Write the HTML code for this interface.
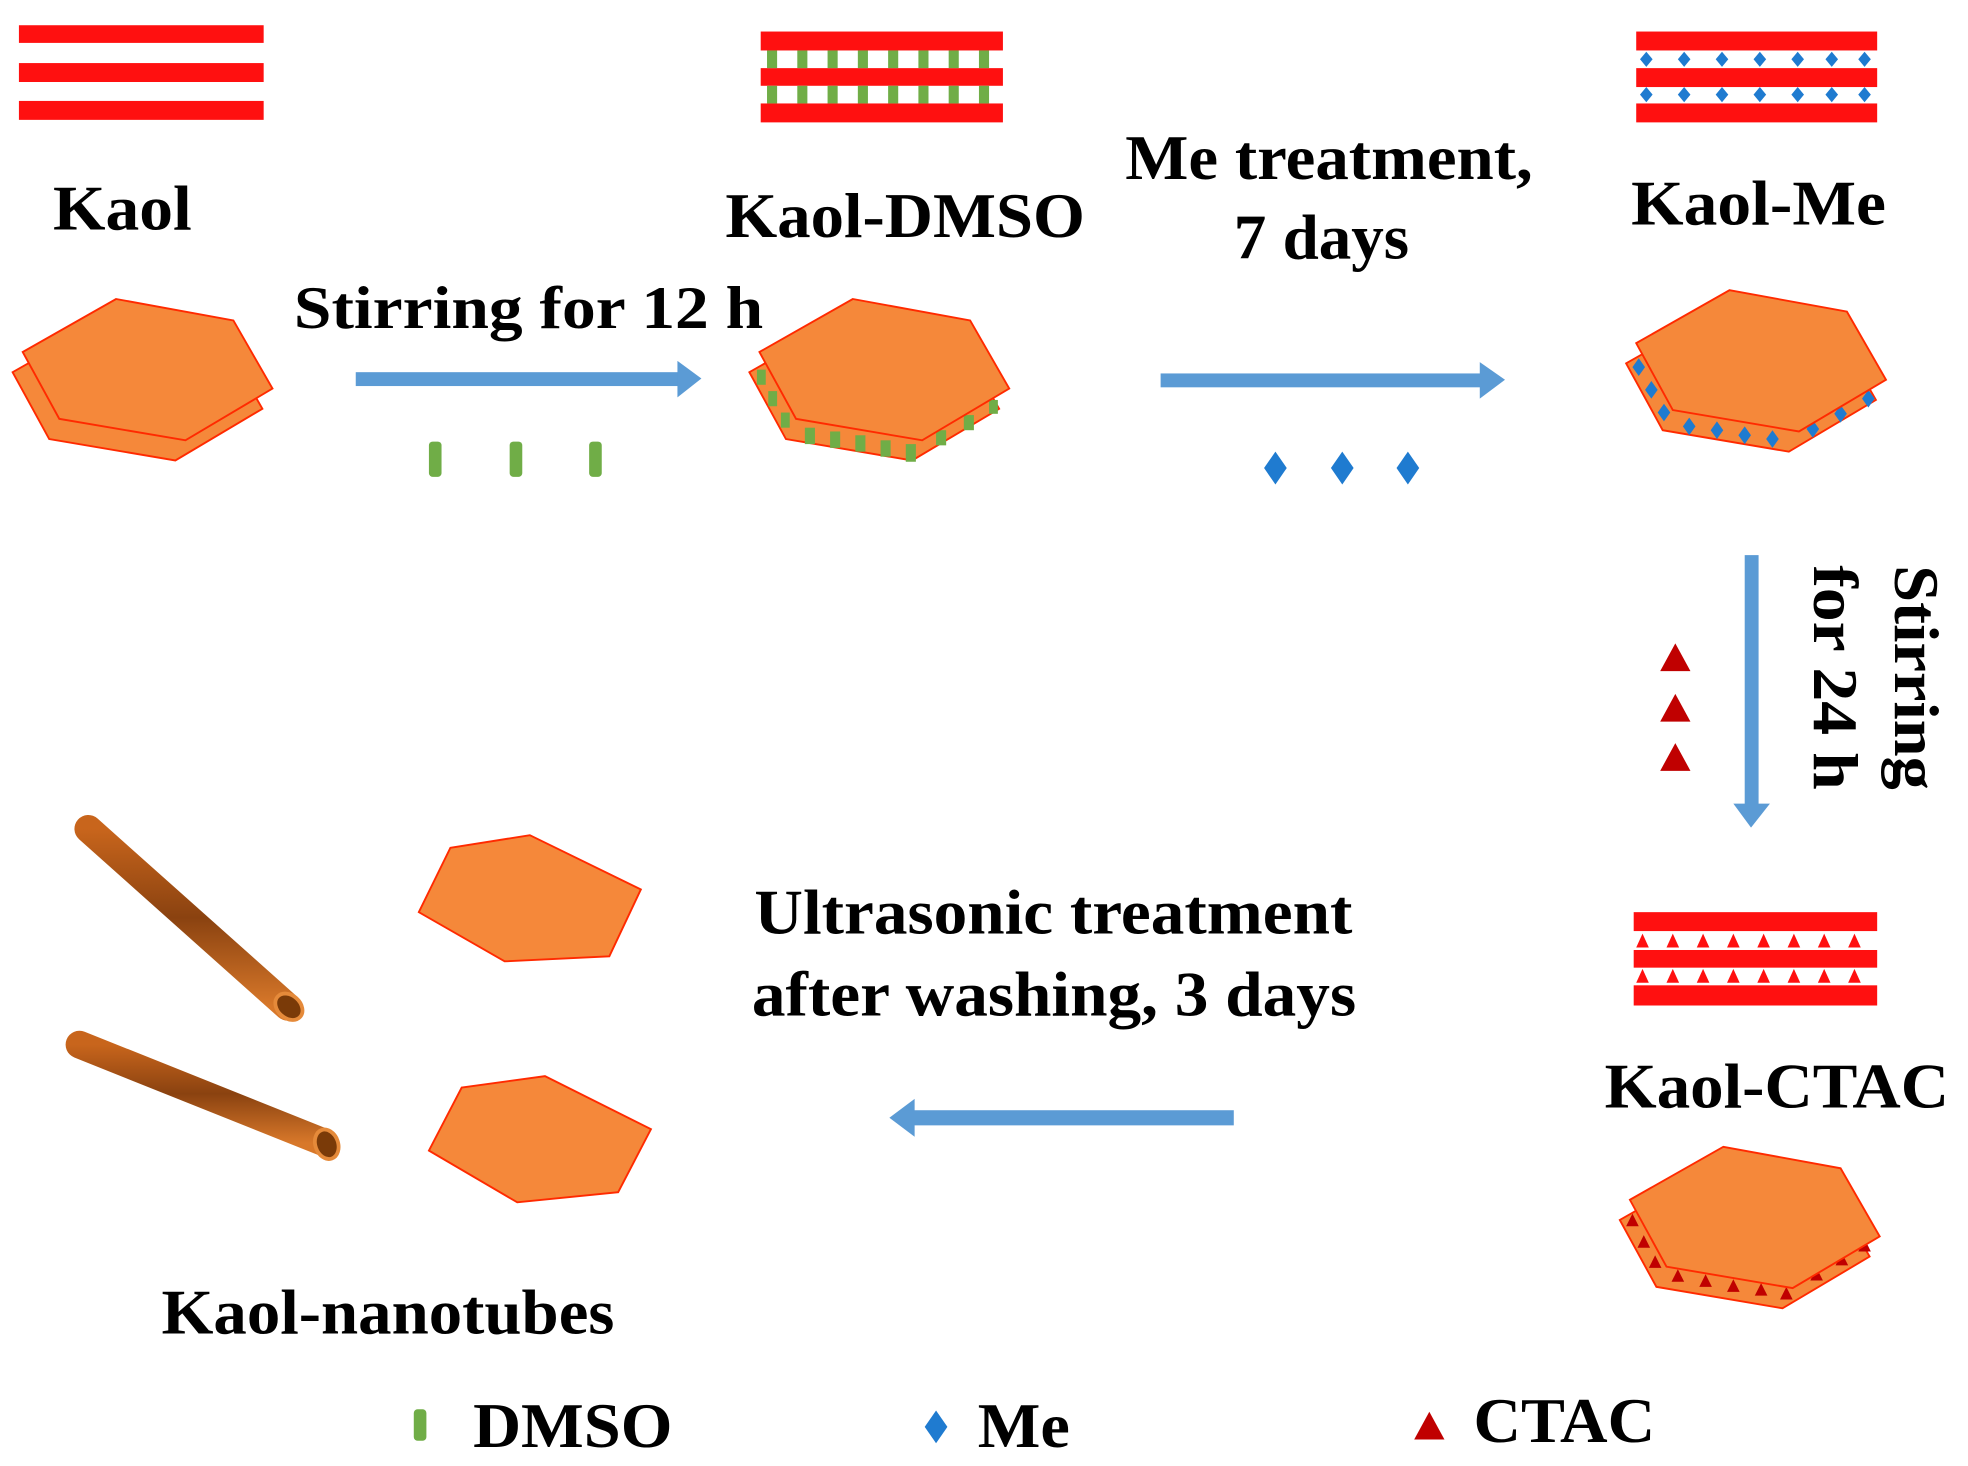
<!DOCTYPE html>
<html><head><meta charset="utf-8"><style>
html,body{margin:0;padding:0;background:#fff;}
svg{display:block;}
text{font-family:"Liberation Serif",serif;font-weight:bold;fill:#000;}
</style></head><body>
<svg width="1968" height="1466" viewBox="0 0 1560 1162" preserveAspectRatio="none" xmlns="http://www.w3.org/2000/svg">
<defs>
<linearGradient id="tube" x1="0" y1="0" x2="0" y2="1">
<stop offset="0" stop-color="#c8651c"/><stop offset="0.5" stop-color="#8a4210"/><stop offset="1" stop-color="#d8782a"/>
</linearGradient>
<polygon id="hx" points="74,0 167,17 198,71 129,112 29,95 0,42"/>
<g id="dbl">
<use href="#hx" x="-8" y="16" fill="#f5883a" stroke="#ff2a00" stroke-width="1.5"/>
</g>
</defs>

<!-- Kaol stripes -->
<g fill="#ff1010">
<rect x="15" y="20" width="194" height="14"/><rect x="15" y="50" width="194" height="15"/><rect x="15" y="80" width="194" height="15"/>
</g>
<text x="42" y="182" font-size="50" textLength="110" lengthAdjust="spacingAndGlyphs">Kaol</text>
<g transform="translate(18,237)">
<use href="#dbl"/>
<use href="#hx" fill="#f5883a" stroke="#ff2a00" stroke-width="1.5"/>
</g>

<!-- Arrow 1 -->
<rect x="282" y="295" width="258" height="11" fill="#5b9bd5"/>
<polygon points="537,286 556,300 537,315" fill="#5b9bd5"/>
<text x="233" y="260" font-size="48" textLength="372" lengthAdjust="spacingAndGlyphs">Stirring for 12 h</text>
<g fill="#70ad47">
<rect x="340" y="350" width="10" height="28" rx="3"/><rect x="404" y="350" width="10" height="28" rx="3"/><rect x="467" y="350" width="10" height="28" rx="3"/>
</g>

<!-- Kaol-DMSO stripes -->
<g fill="#ff1010">
<rect x="603" y="25" width="192" height="15"/><rect x="603" y="54" width="192" height="14"/><rect x="603" y="82" width="192" height="15"/>
</g>
<g fill="#70ad47">
<rect x="608" y="40" width="8" height="14"/><rect x="632" y="40" width="8" height="14"/><rect x="656" y="40" width="8" height="14"/><rect x="680" y="40" width="8" height="14"/><rect x="704" y="40" width="8" height="14"/><rect x="728" y="40" width="8" height="14"/><rect x="752" y="40" width="8" height="14"/><rect x="776" y="40" width="8" height="14"/>
<rect x="608" y="68" width="8" height="14"/><rect x="632" y="68" width="8" height="14"/><rect x="656" y="68" width="8" height="14"/><rect x="680" y="68" width="8" height="14"/><rect x="704" y="68" width="8" height="14"/><rect x="728" y="68" width="8" height="14"/><rect x="752" y="68" width="8" height="14"/><rect x="776" y="68" width="8" height="14"/>
</g>
<text x="575" y="188" font-size="50" textLength="285" lengthAdjust="spacingAndGlyphs">Kaol-DMSO</text>
<g transform="translate(602,237)">
<use href="#dbl"/>
<g fill="#70ad47">
<rect x="-2" y="56" width="7" height="12"/><rect x="7" y="73" width="7" height="12"/><rect x="17" y="90" width="7" height="12"/><rect x="36" y="102" width="8" height="13"/><rect x="56" y="105" width="8" height="13"/><rect x="76" y="108" width="8" height="13"/><rect x="96" y="112" width="8" height="13"/><rect x="116" y="115" width="8" height="14"/><rect x="140" y="104" width="8" height="12"/><rect x="162" y="92" width="8" height="12"/><rect x="182" y="80" width="7" height="11"/>
</g>
<use href="#hx" fill="#f5883a" stroke="#ff2a00" stroke-width="1.5"/>
</g>

<!-- Arrow 2 -->
<text x="892" y="142" font-size="50" textLength="323" lengthAdjust="spacingAndGlyphs">Me treatment,</text>
<text x="978" y="205" font-size="50" textLength="139" lengthAdjust="spacingAndGlyphs">7 days</text>
<rect x="920" y="296" width="255" height="11" fill="#5b9bd5"/>
<polygon points="1173,287 1193,301 1173,316" fill="#5b9bd5"/>
<g fill="#1f7bd0">
<polygon points="1011,358 1020,371 1011,384 1002,371"/><polygon points="1064,358 1073,371 1064,384 1055,371"/><polygon points="1116,358 1125,371 1116,384 1107,371"/>
</g>

<!-- Kaol-Me stripes -->
<g fill="#ff1010">
<rect x="1297" y="25" width="191" height="15"/><rect x="1297" y="54" width="191" height="15"/><rect x="1297" y="82" width="191" height="15"/>
</g>
<g fill="#1f7bd0">
<polygon points="1305,41 1310,47 1305,53 1300,47"/><polygon points="1335,41 1340,47 1335,53 1330,47"/><polygon points="1365,41 1370,47 1365,53 1360,47"/><polygon points="1395,41 1400,47 1395,53 1390,47"/><polygon points="1425,41 1430,47 1425,53 1420,47"/><polygon points="1452,41 1457,47 1452,53 1447,47"/><polygon points="1478,41 1483,47 1478,53 1473,47"/>
<polygon points="1305,69 1310,75 1305,81 1300,75"/><polygon points="1335,69 1340,75 1335,81 1330,75"/><polygon points="1365,69 1370,75 1365,81 1360,75"/><polygon points="1395,69 1400,75 1395,81 1390,75"/><polygon points="1425,69 1430,75 1425,81 1420,75"/><polygon points="1452,69 1457,75 1452,81 1447,75"/><polygon points="1478,69 1483,75 1478,81 1473,75"/>
</g>
<text x="1293" y="178" font-size="50" textLength="202" lengthAdjust="spacingAndGlyphs">Kaol-Me</text>
<g transform="translate(1297,230)">
<use href="#dbl"/>
<g fill="#1f7bd0">
<polygon points="2,54 7,61 2,68 -3,61"/><polygon points="12,72 17,79 12,86 7,79"/><polygon points="22,90 27,97 22,104 17,97"/><polygon points="42,101 47,108 42,115 37,108"/><polygon points="64,104 69,111 64,118 59,111"/><polygon points="86,108 91,115 86,122 81,115"/><polygon points="108,111 113,118 108,125 103,118"/><polygon points="140,103 145,110 140,117 135,110"/><polygon points="162,91 167,98 162,105 157,98"/><polygon points="184,79 189,86 184,93 179,86"/>
</g>
<use href="#hx" fill="#f5883a" stroke="#ff2a00" stroke-width="1.5"/>
</g>

<!-- Vertical arrow -->
<rect x="1383" y="440" width="11" height="200" fill="#5b9bd5"/>
<polygon points="1374,637 1403,637 1388,656" fill="#5b9bd5"/>
<g fill="#c00000">
<polygon points="1328,510 1340,532 1316,532"/><polygon points="1328,550 1340,572 1316,572"/><polygon points="1328,589 1340,611 1316,611"/>
</g>
<text transform="translate(1502,448) rotate(90)" font-size="50" textLength="178" lengthAdjust="spacingAndGlyphs">Stirring</text>
<text transform="translate(1438,448) rotate(90)" font-size="50" textLength="178" lengthAdjust="spacingAndGlyphs">for 24 h</text>

<!-- Kaol-CTAC stripes -->
<g fill="#ff1010">
<rect x="1295" y="723" width="193" height="15"/><rect x="1295" y="753" width="193" height="14"/><rect x="1295" y="781" width="193" height="16"/>
</g>
<g fill="#ff1010">
<polygon points="1302,740 1307,751 1297,751"/><polygon points="1326,740 1331,751 1321,751"/><polygon points="1350,740 1355,751 1345,751"/><polygon points="1374,740 1379,751 1369,751"/><polygon points="1398,740 1403,751 1393,751"/><polygon points="1422,740 1427,751 1417,751"/><polygon points="1446,740 1451,751 1441,751"/><polygon points="1470,740 1475,751 1465,751"/>
<polygon points="1302,768 1307,779 1297,779"/><polygon points="1326,768 1331,779 1321,779"/><polygon points="1350,768 1355,779 1345,779"/><polygon points="1374,768 1379,779 1369,779"/><polygon points="1398,768 1403,779 1393,779"/><polygon points="1422,768 1427,779 1417,779"/><polygon points="1446,768 1451,779 1441,779"/><polygon points="1470,768 1475,779 1465,779"/>
</g>
<text x="1272" y="878" font-size="50" textLength="273" lengthAdjust="spacingAndGlyphs">Kaol-CTAC</text>
<g transform="translate(1292,909)">
<use href="#dbl"/>
<g fill="#c00000">
<polygon points="2,53 7,63 -3,63"/><polygon points="11,70 16,80 6,80"/><polygon points="20,86 25,96 15,96"/><polygon points="38,97 43,107 33,107"/><polygon points="60,101 65,111 55,111"/><polygon points="82,105 87,115 77,115"/><polygon points="104,108 109,118 99,118"/><polygon points="124,111 129,121 119,121"/><polygon points="148,96 153,106 143,106"/><polygon points="168,84 173,94 163,94"/><polygon points="186,73 191,83 181,83"/>
</g>
<use href="#hx" fill="#f5883a" stroke="#ff2a00" stroke-width="1.5"/>
</g>

<!-- Arrow 3 -->
<text x="598" y="740" font-size="50" textLength="474" lengthAdjust="spacingAndGlyphs">Ultrasonic treatment</text>
<text x="596" y="805" font-size="50" textLength="479" lengthAdjust="spacingAndGlyphs">after washing, 3 days</text>
<rect x="722" y="880" width="256" height="12" fill="#5b9bd5"/>
<polygon points="725,871 705,886 725,901" fill="#5b9bd5"/>

<!-- nanotubes -->
<g>
<line x1="70" y1="657" x2="228" y2="798" stroke="url(#tube)" stroke-width="22" stroke-linecap="round"/>
<ellipse cx="229" cy="798" rx="9" ry="12" transform="rotate(-48 229 798)" fill="#7a3a08" stroke="#e58a3a" stroke-width="3"/>
<line x1="63" y1="828" x2="258" y2="906" stroke="url(#tube)" stroke-width="22" stroke-linecap="round"/>
<ellipse cx="259" cy="907" rx="9" ry="12" transform="rotate(-20 259 907)" fill="#7a3a08" stroke="#e58a3a" stroke-width="3"/>
</g>
<polygon points="357,672 420,662 508,705 483,758 400,762 332,723" fill="#f5883a" stroke="#ff2a00" stroke-width="1.5"/>
<polygon points="366,862 432,853 516,895 490,945 410,953 340,912" fill="#f5883a" stroke="#ff2a00" stroke-width="1.5"/>
<text x="128" y="1057" font-size="50" textLength="359" lengthAdjust="spacingAndGlyphs">Kaol-nanotubes</text>

<!-- Legend -->
<rect x="328" y="1117" width="10" height="25" rx="3" fill="#70ad47"/>
<text x="375" y="1147" font-size="50" textLength="158" lengthAdjust="spacingAndGlyphs">DMSO</text>
<polygon points="742,1118 751,1131 742,1144 733,1131" fill="#1f7bd0"/>
<text x="775" y="1147" font-size="50" textLength="73" lengthAdjust="spacingAndGlyphs">Me</text>
<polygon points="1133,1119 1145,1141 1121,1141" fill="#c00000"/>
<text x="1168" y="1143" font-size="50" textLength="144" lengthAdjust="spacingAndGlyphs">CTAC</text>
</svg>
</body></html>
